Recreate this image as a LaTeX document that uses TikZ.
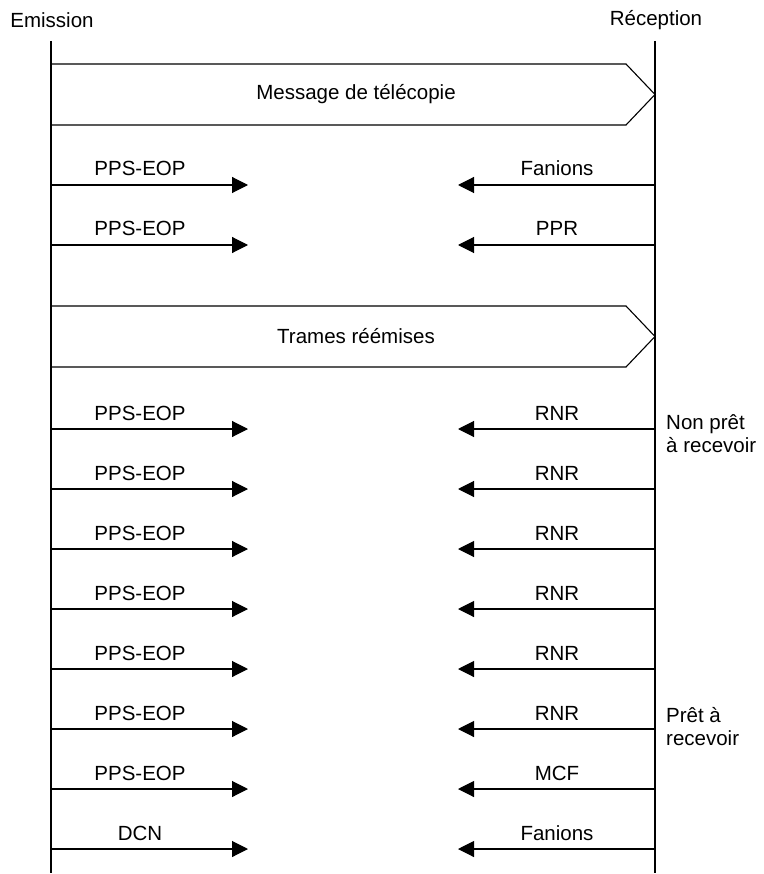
\documentclass[tikz,border=0pt]{standalone}
\usepackage{fontspec}
\setmainfont{Liberation Sans}
\usetikzlibrary{arrows.meta}
\tikzset{
    base/.style={font=\fontsize{20.5}{23}\selectfont, inner sep=0pt},
    lifeline/.style={line width=1.1pt, black},
    msg/.style={-{Triangle[length=16pt, width=16pt]}, line width=1.1pt},
    block/.style={line width=1.1pt, line join=miter},
    note/.style={base, align=left, anchor=base west}
}

\begin{document}
\begin{tikzpicture}[x=1pt, y=-1pt]
  \useasboundingbox (0,0) rectangle (763,874);
  % Stations
  \node[base] (emi) at (52,20) {Emission};
  \node[base] (rec) at (656,20) {Réception};
  \coordinate (emiTop) at (51,41);
  \coordinate (emiEnd) at (51,873);
  \coordinate (recTop) at (655,41);
  \coordinate (recEnd) at (655,873);
  \draw[lifeline] (emiTop) -- (emiEnd);
  \draw[lifeline] (recTop) -- (recEnd);

  % Blocks
  \foreach \top/\bot/\txt [count=\i] in {64/125/Message de télécopie, 306/367/Trames réémises} {
    \draw[block] (51,\top) -- (626,\top) -- (655,{(\top+\bot)/2}) -- (626,\bot) -- (51,\bot);
    \node[base] (blk\i) at (356,{(\top+\bot)/2}) {\txt};
  }

  % Messages
  \foreach \y/\sent/\back [count=\i] in {185/PPS-EOP/Fanions, 245/PPS-EOP/PPR,
      429/PPS-EOP/RNR, 489/PPS-EOP/RNR, 549/PPS-EOP/RNR, 609/PPS-EOP/RNR,
      669/PPS-EOP/RNR, 729/PPS-EOP/RNR, 789/PPS-EOP/MCF, 849/DCN/Fanions} {
    \coordinate (out\i) at (51,\y);
    \coordinate (outTip\i) at (248,\y);
    \coordinate (in\i) at (655,\y);
    \coordinate (inTip\i) at (458,\y);
    \draw[msg] (out\i) -- (outTip\i);
    \draw[msg] (in\i) -- (inTip\i);
    \node[base, anchor=base] (outLbl\i) at (140,\y-9) {\sent};
    \node[base, anchor=base] (inLbl\i) at (557,\y-9) {\back};
  }

  % Receiver states
  \node[note] (busy) at (666,452) {Non prêt\\à recevoir};
  \node[note] (ready) at (666,745) {Prêt à\\recevoir};
\end{tikzpicture}
\end{document}
